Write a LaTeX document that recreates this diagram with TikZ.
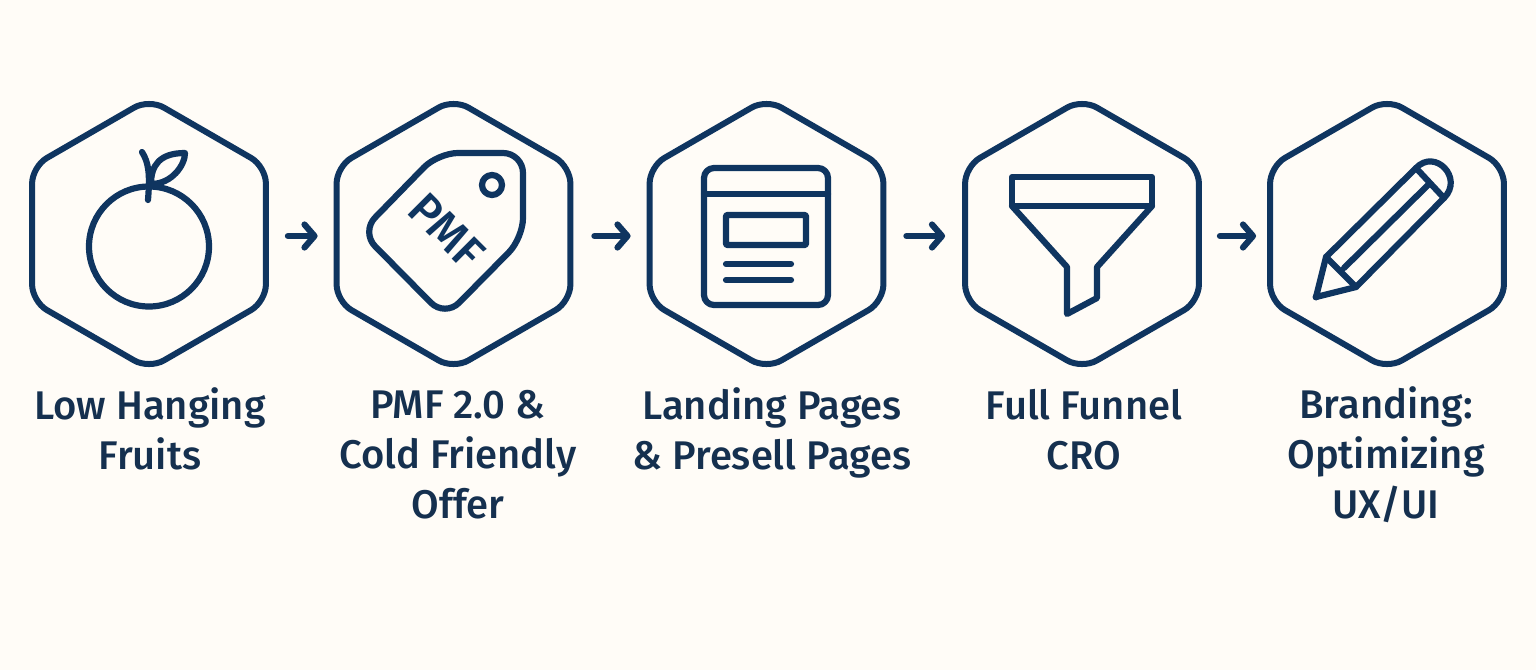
\documentclass[tikz,border=0pt]{standalone}
\usepackage{fontspec}
\setmainfont{Fira Sans Medium}
\usetikzlibrary{shapes.geometric,arrows.meta}
\definecolor{navy}{HTML}{0F3560}
\definecolor{inktext}{HTML}{15304F}
\definecolor{paper}{HTML}{FFFCF7}
\tikzset{
  hexa/.style={regular polygon,regular polygon sides=6,shape border rotate=30,minimum size=270pt,inner sep=0pt,outer sep=0pt,draw=navy,line width=6pt,rounded corners=17pt},
  icon/.style={draw=navy,line width=6.2pt,line join=round,line cap=round},
  flow/.style={draw=navy,line width=6.2pt,line cap=round,line join=round,-{Straight Barb[length=10pt,width=23pt,line cap=round,line join=round]}},
  label/.style={text=inktext,align=center,font=\fontsize{40}{50}\selectfont,anchor=base,inner sep=0pt}
}
\begin{document}
\begin{tikzpicture}[x=1pt,y=-1pt]
\useasboundingbox (0,0) rectangle (1536,670);
\fill[paper] (0,0) rectangle (1536,670);
\node[hexa] (h1) at (149,234) {};
\node[hexa] (h2) at (453.5,234) {};
\node[hexa] (h3) at (766.5,234) {};
\node[hexa] (h4) at (1082,234) {};
\node[hexa] (h5) at (1387,234) {};
\draw[flow,shorten <=22pt,shorten >=19pt] ([yshift=-2pt]h1.east) -- ([yshift=-2pt]h2.west);
\draw[flow,shorten <=24pt,shorten >=19pt] ([yshift=-2pt]h2.east) -- ([yshift=-2pt]h3.west);
\draw[flow,shorten <=23pt,shorten >=20pt] ([yshift=-2pt]h3.east) -- ([yshift=-2pt]h4.west);
\draw[flow,shorten <=21pt,shorten >=14pt] ([yshift=-2pt]h4.east) -- ([yshift=-2pt]h5.west);
% apple
\draw[icon] (149,246.5) circle (60);
\draw[icon] (142,152) .. controls (149,163) and (150,175) .. (148,200);
\draw[icon] (151,184) .. controls (151,165) and (160,153) .. (185,153) .. controls (185,165) and (172,184) .. (151,184);
% tag
\draw[icon,rounded corners=20pt] (438,153) -- (523,153) -- (523,238) -- (445,317) -- (361,232) -- cycle;
\draw[icon] (492,185) circle (10);
\node[text=navy,rotate=-45,font=\fontsize{46}{46}\selectfont,inner sep=0pt] (pmf) at (447,231) {PMF};
% page
\draw[icon,rounded corners=10pt] (704,168) rectangle (828,305);
\draw[icon] (704,194) -- (828,194);
\draw[icon,rounded corners=1pt] (726,215) rectangle (806,245);
\draw[icon] (726,264) -- (791,264);
\draw[icon] (726,280) -- (791,280);
% funnel
\draw[icon] (1012,177) rectangle (1152,206);
\draw[icon] (1012,206) -- (1067,267) -- (1067,314) -- (1097,298) -- (1097,267) -- (1152,206);
% pencil
\draw[icon] (1326,257) -- (1416,168) .. controls (1435,148) and (1464,178) .. (1444,198) -- (1356,287) -- (1316,297) -- cycle;
\draw[icon] (1416,168) -- (1444,198);
\draw[icon] (1344,268) -- (1429,184);
\draw[icon] (1326,257) -- (1356,287);
\fill[navy] (1316,297) circle (3.5);
% labels
\node[label] (t1) at (150,469) {Low Hanging\\Fruits};
\node[label] (t2) at (458,518) {PMF 2.0 \&\\Cold Friendly\\Offer};
\node[label] (t3) at (772,469) {Landing Pages\\\& Presell Pages};
\node[label] (t4) at (1084,469) {Full Funnel\\CRO};
\node[label] (t5) at (1386,518) {Branding:\\Optimizing\\UX/UI};
\end{tikzpicture}
\end{document}
